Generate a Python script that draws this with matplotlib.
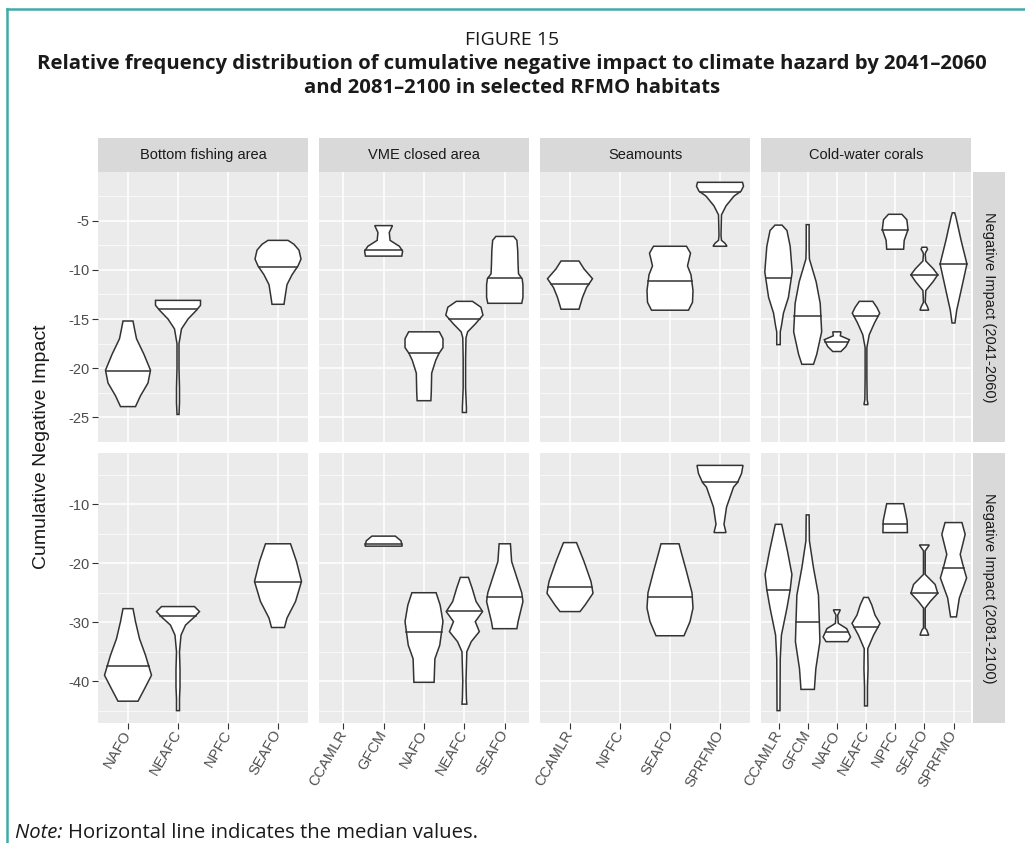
import matplotlib
matplotlib.use("Agg")
import matplotlib.pyplot as plt
import numpy as np
from matplotlib import font_manager
from matplotlib.patches import Rectangle
from matplotlib.lines import Line2D

habitats = ["Bottom fishing area", "VME closed area", "Seamounts", "Cold-water corals"]
periods = ["Negative Impact (2041-2060)", "Negative Impact (2081-2100)"]

rfmo_bottom_fishing = ["NAFO", "NEAFC", "NPFC", "SEAFO"]
rfmo_vme = ["CCAMLR", "GFCM", "NAFO", "NEAFC", "SEAFO"]
rfmo_seamounts = ["CCAMLR", "NPFC", "SEAFO", "SPRFMO"]
rfmo_corals = ["CCAMLR", "GFCM", "NAFO", "NEAFC", "NPFC", "SEAFO", "SPRFMO"]

# violin outlines:
# rfmo -> (impact levels, relative density as half width, median)
bottom_fishing_2050 = {
    "NAFO": ([-15.2, -16.0, -17.0, -18.6, -20.2, -21.5, -22.8, -23.9],
             [0.10, 0.13, 0.17, 0.32, 0.45, 0.40, 0.25, 0.15], -20.3),
    "NEAFC": ([-13.1, -13.6, -14.1, -15.0, -16.0, -16.6, -17.5, -20.0, -22.0, -23.5, -24.7],
              [0.45, 0.45, 0.37, 0.20, 0.07, 0.05, 0.02, 0.02, 0.03, 0.03, 0.02], -14.0),
    "SEAFO": ([-7.0, -7.4, -8.0, -8.9, -9.6, -10.5, -11.5, -12.8, -13.5],
              [0.20, 0.32, 0.42, 0.46, 0.40, 0.28, 0.18, 0.14, 0.12], -9.7),
}
vme_2050 = {
    "GFCM": ([-5.5, -6.2, -7.0, -7.6, -8.1, -8.6],
             [0.22, 0.14, 0.16, 0.39, 0.47, 0.45], -8.0),
    "NAFO": ([-16.3, -17.0, -17.9, -18.5, -19.2, -20.5, -22.5, -23.3],
             [0.38, 0.47, 0.47, 0.37, 0.29, 0.19, 0.18, 0.17], -18.5),
    "NEAFC": ([-13.2, -13.8, -14.6, -15.5, -16.3, -16.9, -19.0, -22.0, -24.0, -24.5],
              [0.20, 0.41, 0.46, 0.27, 0.08, 0.04, 0.03, 0.03, 0.05, 0.05], -15.0),
    "SEAFO": ([-6.6, -7.0, -8.0, -9.5, -10.4, -10.9, -11.5, -12.8, -13.4],
              [0.22, 0.30, 0.32, 0.33, 0.34, 0.43, 0.45, 0.45, 0.42], -10.8),
}
seamounts_2050 = {
    "CCAMLR": ([-9.1, -9.9, -10.9, -11.8, -12.8, -14.0],
               [0.18, 0.28, 0.45, 0.33, 0.25, 0.18], -11.4),
    "SEAFO": ([-7.6, -8.3, -9.6, -10.5, -12.1, -13.3, -14.1],
              [0.33, 0.41, 0.35, 0.42, 0.46, 0.45, 0.37], -11.1),
    "SPRFMO": ([-1.1, -1.5, -2.0, -2.5, -3.5, -4.4, -6.5, -7.0, -7.3, -7.6],
               [0.45, 0.47, 0.42, 0.28, 0.12, 0.03, 0.02, 0.03, 0.10, 0.14], -2.1),
}
corals_2050 = {
    "CCAMLR": ([-5.45, -6.0, -7.6, -10.2, -12.8, -14.4, -15.7, -16.3, -17.6],
               [0.12, 0.29, 0.40, 0.47, 0.34, 0.17, 0.10, 0.06, 0.06], -10.8),
    "GFCM": ([-5.4, -7.8, -8.9, -11.2, -13.4, -16.3, -18.6, -19.6],
             [0.05, 0.05, 0.06, 0.29, 0.43, 0.48, 0.31, 0.20], -14.7),
    "NAFO": ([-16.3, -16.7, -17.1, -17.8, -18.3],
             [0.14, 0.12, 0.43, 0.31, 0.14], -17.3),
    "NEAFC": ([-13.2, -13.8, -14.4, -15.4, -16.6, -17.9, -21.0, -23.2, -23.7],
              [0.23, 0.37, 0.47, 0.29, 0.11, 0.03, 0.03, 0.04, 0.07], -14.7),
    "NPFC": ([-4.35, -4.9, -5.9, -6.5, -7.0, -7.9],
             [0.23, 0.40, 0.44, 0.37, 0.31, 0.29], -5.9),
    "SEAFO": ([-7.7, -7.9, -8.2, -8.4, -9.1, -9.9, -10.5, -11.2, -12.1, -13.3, -13.7, -14.1],
              [0.08, 0.11, 0.05, 0.03, 0.05, 0.31, 0.46, 0.30, 0.05, 0.03, 0.10, 0.15], -10.5),
    "SPRFMO": ([-4.2, -4.6, -7.0, -9.4, -12.1, -14.1, -15.4],
               [0.04, 0.08, 0.26, 0.46, 0.26, 0.11, 0.05], -9.4),
}

bottom_fishing_2090 = {
    "NAFO": ([-27.7, -29.9, -32.8, -35.6, -39.0, -41.3, -43.4],
             [0.10, 0.15, 0.23, 0.35, 0.47, 0.33, 0.20], -37.4),
    "NEAFC": ([-27.35, -28.2, -29.1, -30.5, -32.2, -35.0, -38.0, -41.0, -43.0, -45.0],
              [0.33, 0.43, 0.33, 0.15, 0.06, 0.03, 0.04, 0.04, 0.03, 0.03], -28.9),
    "SEAFO": ([-16.7, -19.7, -23.1, -26.5, -29.3, -30.9],
              [0.25, 0.37, 0.47, 0.35, 0.18, 0.13], -23.2),
}
vme_2090 = {
    "GFCM": ([-15.4, -16.2, -17.1],
             [0.29, 0.43, 0.46], -16.8),
    "NAFO": ([-25.0, -27.1, -29.9, -33.9, -36.2, -40.2],
             [0.30, 0.40, 0.47, 0.39, 0.27, 0.25], -31.7),
    "NEAFC": ([-22.4, -24.2, -26.5, -28.2, -29.9, -31.6, -33.3, -35.0, -40.0, -43.0, -43.9],
              [0.10, 0.19, 0.29, 0.45, 0.27, 0.37, 0.17, 0.06, 0.04, 0.05, 0.06], -28.1),
    "SEAFO": ([-16.7, -19.7, -23.1, -25.0, -26.5, -29.9, -31.1],
              [0.14, 0.17, 0.33, 0.42, 0.45, 0.33, 0.30], -25.8),
}
seamounts_2090 = {
    "CCAMLR": ([-16.5, -19.7, -23.1, -25.1, -27.1, -28.2],
               [0.13, 0.28, 0.42, 0.46, 0.30, 0.20], -24.1),
    "SEAFO": ([-16.7, -18.0, -21.4, -25.0, -27.6, -29.9, -32.3],
              [0.18, 0.22, 0.33, 0.44, 0.46, 0.40, 0.28], -25.8),
    "SPRFMO": ([-3.4, -4.8, -6.3, -7.1, -10.5, -13.4, -14.8],
               [0.46, 0.43, 0.35, 0.27, 0.13, 0.08, 0.12], -6.3),
}
corals_2090 = {
    "CCAMLR": ([-13.4, -18.0, -21.9, -24.5, -27.6, -32.2, -36.2, -45.0],
               [0.11, 0.31, 0.46, 0.40, 0.29, 0.10, 0.06, 0.05], -24.5),
    "GFCM": ([-11.8, -16.2, -20.8, -25.4, -29.9, -33.3, -37.9, -41.4],
             [0.05, 0.06, 0.20, 0.37, 0.40, 0.42, 0.28, 0.23], -29.9),
    "NAFO": ([-27.9, -28.3, -28.8, -30.2, -31.1, -32.5, -33.3],
             [0.12, 0.08, 0.03, 0.05, 0.34, 0.47, 0.37], -31.6),
    "NEAFC": ([-25.8, -27.1, -28.8, -30.2, -32.2, -34.5, -37.9, -41.0, -44.2],
              [0.08, 0.20, 0.31, 0.48, 0.26, 0.06, 0.07, 0.05, 0.05], -30.8),
    "NPFC": ([-9.9, -11.1, -12.8, -14.8],
             [0.29, 0.34, 0.41, 0.42], -13.4),
    "SEAFO": ([-16.9, -17.4, -17.9, -21.9, -23.6, -25.1, -26.5, -27.6, -31.0, -31.3, -32.2],
              [0.17, 0.10, 0.03, 0.03, 0.37, 0.46, 0.20, 0.03, 0.03, 0.08, 0.15], -25.1),
    "SPRFMO": ([-13.1, -15.1, -18.5, -20.8, -22.5, -25.9, -29.1],
               [0.29, 0.40, 0.23, 0.35, 0.45, 0.20, 0.10], -20.8),
}

y_ticks_2050 = [-25, -20, -15, -10, -5]
y_ticks_2090 = [-40, -30, -20, -10]

columns = [rfmo_bottom_fishing, rfmo_vme, rfmo_seamounts, rfmo_corals]
panels = [[bottom_fishing_2050, vme_2050, seamounts_2050, corals_2050],
          [bottom_fishing_2090, vme_2090, seamounts_2090, corals_2090]]
row_ticks = [y_ticks_2050, y_ticks_2090]
row_limits = [(-25.9, -0.05), (-47.1, -1.3)]


def has_font(name):
    try:
        font_manager.findfont(font_manager.FontProperties(family=name), fallback_to_default=False)
        return True
    except ValueError:
        return False


NARROW = has_font("Liberation Sans Narrow")
HEAD_FONT = "Liberation Sans Narrow" if NARROW else "Open Sans"
HEAD_SIZE = 16.5 if NARROW else 14.6
CHART_FONT = "Liberation Sans"

W, H = 1025, 843
fig = plt.figure(figsize=(W / 100, H / 100), dpi=100)
fig.patch.set_facecolor("white")


def fx(x):
    return x / W


def fy(y):
    return 1 - y / H


def draw_violin(ax, x, levels, dens, median):
    levels = np.asarray(levels, dtype=float)
    dens = np.asarray(dens, dtype=float)
    xs = np.concatenate([x - dens, (x + dens)[::-1]])
    ys = np.concatenate([levels, levels[::-1]])
    ax.fill(xs, ys, facecolor="white", edgecolor="#333333", lw=1.1, zorder=3)
    order = np.argsort(levels)
    w = np.interp(median, levels[order], dens[order])
    ax.plot([x - w, x + w], [median, median], color="#333333", lw=1.1, zorder=4)


col_left = [98, 319, 540, 761]
col_w = 210
row_top = [172, 453]
row_h = 270

for r in range(2):
    for c in range(4):
        cats = columns[c]
        ax = fig.add_axes([fx(col_left[c]), fy(row_top[r] + row_h), fx(col_w), row_h / H])
        ax.set_facecolor("#EBEBEB")
        for s in ax.spines.values():
            s.set_visible(False)
        ax.set_xlim(0.4, len(cats) + 0.6)
        ax.set_ylim(*row_limits[r])
        ax.set_xticks(range(1, len(cats) + 1))
        ticks = row_ticks[r]
        step = ticks[1] - ticks[0]
        ax.set_yticks(ticks)
        ax.set_yticks([t + step / 2 for t in [ticks[0] - step] + ticks], minor=True)
        ax.grid(which="major", color="white", lw=1.1, zorder=0)
        ax.grid(which="minor", axis="y", color="white", lw=0.5, zorder=0)
        ax.set_axisbelow(True)
        ax.tick_params(which="minor", length=0)
        ax.tick_params(which="major", length=4, width=0.8, color="#333333",
                       labelcolor="#4D4D4D", labelsize=10.5, pad=2)
        if c == 0:
            ax.set_yticklabels([str(t) for t in ticks], family=CHART_FONT)
        else:
            ax.tick_params(axis="y", left=False, labelleft=False)
        if r == 1:
            ax.set_xticklabels(cats, family=CHART_FONT, rotation=60, ha="right",
                               va="center", rotation_mode="anchor")
        else:
            ax.tick_params(axis="x", bottom=False, labelbottom=False)

        data = panels[r][c]
        for i, name in enumerate(cats):
            if name in data:
                levels, dens, med = data[name]
                draw_violin(ax, i + 1, levels, dens, med)

# facet strips
for c in range(4):
    fig.add_artist(Rectangle((fx(col_left[c]), fy(172)), fx(col_w), 34 / H,
                             transform=fig.transFigure, facecolor="#D9D9D9", edgecolor="none"))
    fig.text(fx(col_left[c] + col_w / 2), fy(155), habitats[c], ha="center", va="center",
             fontsize=10.5, color="#1A1A1A", family=CHART_FONT)
for r in range(2):
    fig.add_artist(Rectangle((fx(973), fy(row_top[r] + row_h)), fx(32), row_h / H,
                             transform=fig.transFigure, facecolor="#D9D9D9", edgecolor="none"))
    fig.text(fx(989), fy(row_top[r] + row_h / 2), periods[r], ha="center", va="center",
             rotation=-90, fontsize=10.5, color="#1A1A1A", family=CHART_FONT)

fig.text(fx(42), fy(447), "Cumulative Negative Impact", rotation=90, ha="center", va="center",
         fontsize=14, color="#1A1A1A", family=CHART_FONT)

# titles and note
fig.text(fx(512), fy(40), "FIGURE 15", ha="center", va="center",
         fontsize=HEAD_SIZE - 0.6, color="#1A1A1A", family=HEAD_FONT)
fig.text(fx(512), fy(64), "Relative frequency distribution of cumulative negative impact to climate hazard by 2041\u20132060",
         ha="center", va="center", fontsize=HEAD_SIZE, fontweight="bold", color="#1A1A1A", family=HEAD_FONT)
fig.text(fx(512), fy(88), "and 2081\u20132100 in selected RFMO habitats",
         ha="center", va="center", fontsize=HEAD_SIZE, fontweight="bold", color="#1A1A1A", family=HEAD_FONT)
note_head = fig.text(fx(15), fy(833), "Note: ", ha="left", va="center", fontsize=HEAD_SIZE,
                     style="italic", color="#1A1A1A", family=HEAD_FONT)
renderer = fig.canvas.get_renderer()
note_w = note_head.get_window_extent(renderer).width
fig.text(fx(15 + note_w), fy(833), "Horizontal line indicates the median values.",
         ha="left", va="center", fontsize=HEAD_SIZE, color="#1A1A1A", family=HEAD_FONT)

# teal frame
teal = "#40AAAA"
fig.add_artist(Line2D([fx(7), fx(7)], [0, fy(9)], color=teal, lw=1.8, transform=fig.transFigure))
fig.add_artist(Line2D([fx(7), 1], [fy(9), fy(9)], color=teal, lw=1.8, transform=fig.transFigure))

fig.savefig("out.png", dpi=100, facecolor="white")
